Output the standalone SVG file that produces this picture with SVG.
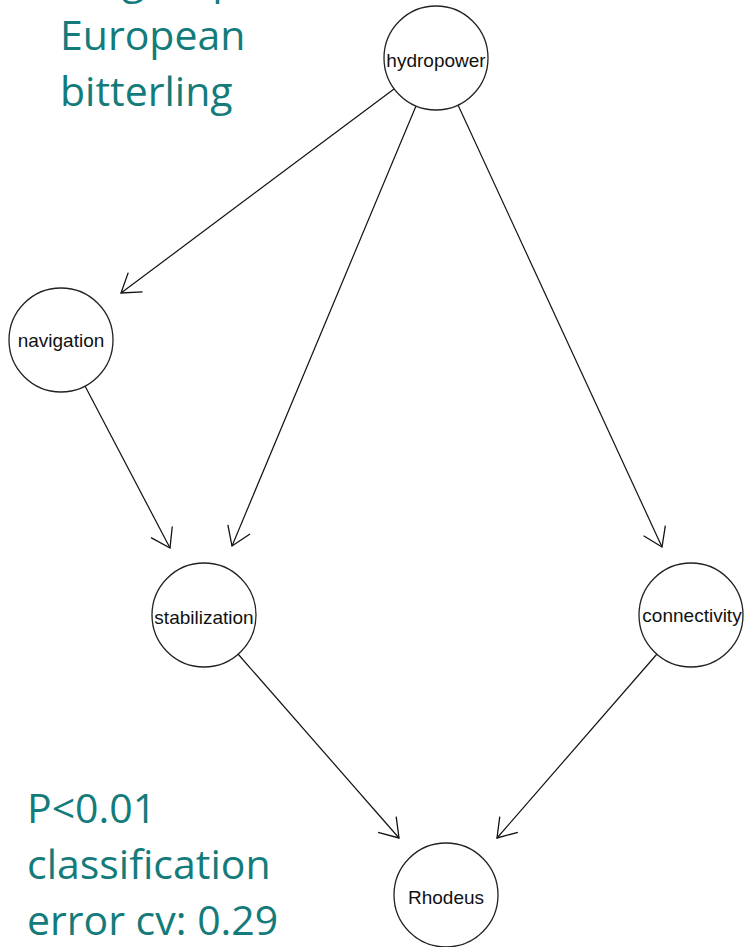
<svg xmlns="http://www.w3.org/2000/svg" width="744" height="947" viewBox="0 0 744 947">
<defs>
<style>
.title{font-family:"Open Sans","Liberation Sans",sans-serif;font-size:41px;fill:#147b7b}
.node circle{fill:#fff;stroke:#222;stroke-width:1.3}
.node text{font-family:"Liberation Sans",Arial,sans-serif;font-size:19px;fill:#111;text-anchor:middle;dominant-baseline:central}
.edge{stroke:#111;stroke-width:1.2;fill:none;marker-end:url(#arr)}
</style>
<marker id="arr" markerUnits="userSpaceOnUse" markerWidth="40" markerHeight="40" viewBox="-25 -20 30 40" refX="0" refY="0" orient="auto" overflow="visible">
<path d="M-18,-12 L0,0 L-18,12" fill="none" stroke="#111" stroke-width="1.3"/>
</marker>
</defs>
<rect width="744" height="947" fill="#fff"/>
<g id="title-top">
<text class="title" x="60" y="-6">Target species:</text>
<text class="title" x="60" y="50">European</text>
<text class="title" x="60" y="106">bitterling</text>
</g>
<g id="title-bottom">
<text class="title" x="27" y="823">P&lt;0.01</text>
<text class="title" x="27" y="879">classification</text>
<text class="title" x="27" y="935">error cv: 0.29</text>
</g>
<g id="connectors">
<line class="edge" x1="394" y1="89" x2="121" y2="293"/>
<line class="edge" x1="416" y1="106" x2="232" y2="546"/>
<line class="edge" x1="458" y1="105" x2="662" y2="547"/>
<line class="edge" x1="85" y1="386" x2="170" y2="548"/>
<line class="edge" x1="238" y1="654" x2="399" y2="838"/>
<line class="edge" x1="657" y1="654" x2="497" y2="838"/>
</g>
<g id="hydropower" class="node"><circle cx="436" cy="58" r="52"/><text x="436" y="60">hydropower</text></g>
<g id="navigation" class="node"><circle cx="61" cy="340" r="52"/><text x="61" y="340">navigation</text></g>
<g id="stabilization" class="node"><circle cx="204" cy="615" r="52"/><text x="204" y="617">stabilization</text></g>
<g id="connectivity" class="node"><circle cx="691" cy="615" r="52"/><text x="692" y="615">connectivity</text></g>
<g id="Rhodeus" class="node"><circle cx="446" cy="895" r="52"/><text x="446" y="897">Rhodeus</text></g>
</svg>
